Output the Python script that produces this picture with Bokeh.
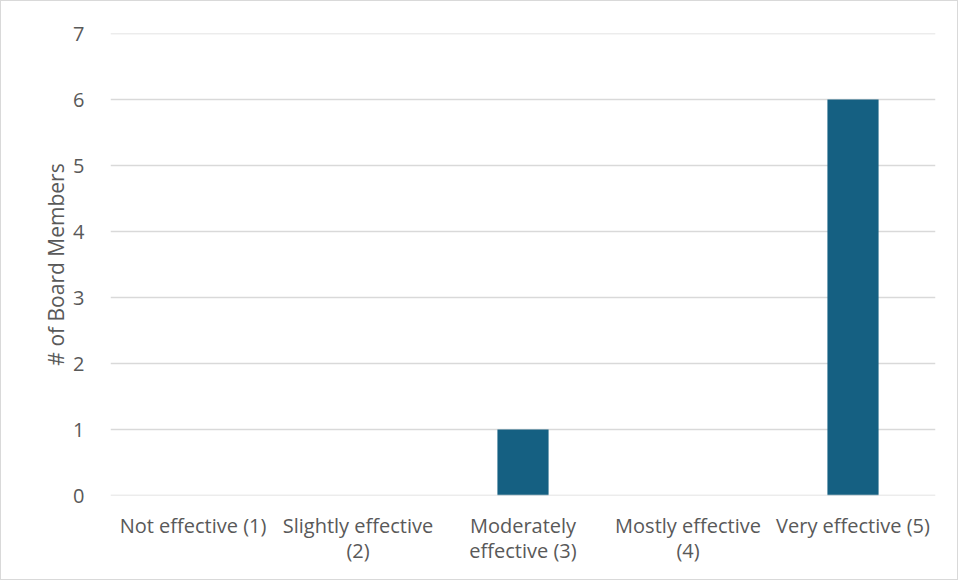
from bokeh.plotting import figure
from bokeh.models import FactorRange, Range1d, FixedTicker, ColumnDataSource, Span
from bokeh.embed import file_html
from bokeh.resources import INLINE

categories = ["Not effective (1)", "Slightly effective\n(2)", "Moderately\neffective (3)",
              "Mostly effective\n(4)", "Very effective (5)"]
counts = [0, 0, 1, 0, 6]
y_ticks = [0, 1, 2, 3, 4, 5, 6, 7]

src = ColumnDataSource(dict(cat=categories, val=counts))

p = figure(width=958, height=580, output_backend="svg", toolbar_location=None,
           x_range=FactorRange(*categories, range_padding=0),
           y_range=Range1d(y_ticks[0], y_ticks[-1]),
           min_border_left=109, min_border_right=24, min_border_top=32, min_border_bottom=86)

p.outline_line_color = None
p.styles = {"border": "1px solid #d9d9d9"}
p.xgrid.grid_line_color = None
p.ygrid.grid_line_color = "#d9d9d9"
p.ygrid.grid_line_width = 1.5
for t in (y_ticks[0], y_ticks[-1]):
    p.add_layout(Span(location=t, dimension="width", line_color="#d9d9d9", line_width=1.5))
p.yaxis.ticker = FixedTicker(ticks=y_ticks)

p.vbar(x="cat", top="val", width=0.31, source=src, fill_color="#156082", line_color=None)

for ax in (p.xaxis[0], p.yaxis[0]):
    ax.axis_line_color = None
    ax.major_tick_line_color = None
    ax.minor_tick_line_color = None
    ax.major_label_text_color = "#595959"
    ax.major_label_text_font = "Open Sans"
    ax.major_label_text_font_size = "20px"

p.xaxis.major_label_text_line_height = 0.95
p.xaxis.major_label_standoff = 10
p.yaxis.major_label_standoff = 20
p.yaxis.axis_label = "# of Board Members"
p.yaxis.axis_label_text_color = "#595959"
p.yaxis.axis_label_text_font = "Open Sans"
p.yaxis.axis_label_text_font_style = "normal"
p.yaxis.axis_label_text_font_size = "21px"
p.yaxis.axis_label_standoff = 0

open("out.html", "w").write(file_html(p, INLINE))
